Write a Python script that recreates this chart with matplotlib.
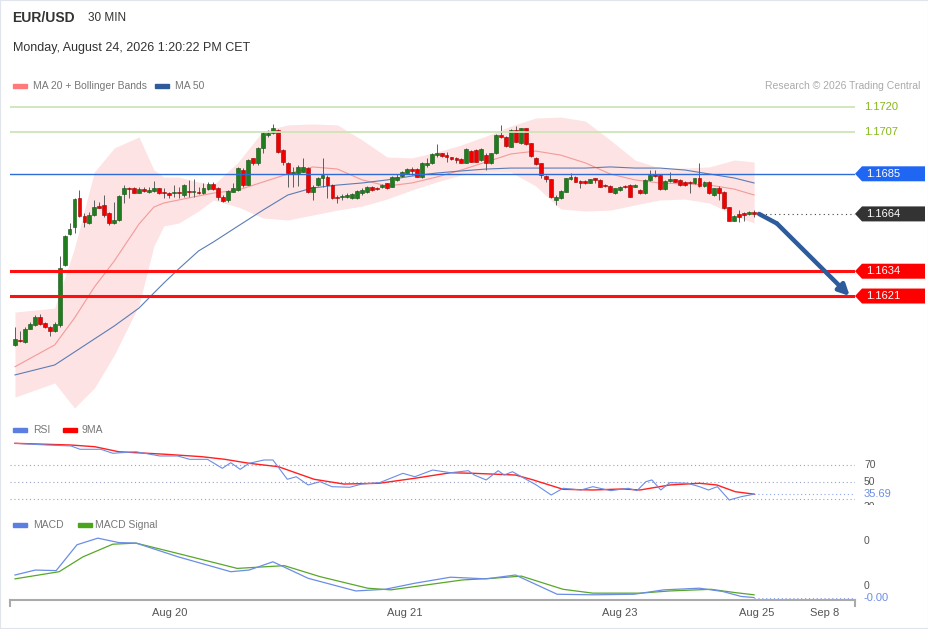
import matplotlib
matplotlib.use("Agg")
import matplotlib.pyplot as plt
import numpy as np
from matplotlib.patches import Rectangle, Polygon
from matplotlib.transforms import blended_transform_factory, IdentityTransform

plt.rcParams['font.family'] = ['Liberation Sans', 'DejaVu Sans']

# --- candles (30 min) ---
opens = [1.15952, 1.15980, 1.15971, 1.16037, 1.16058, 1.16102, 1.16067, 1.16049, 1.16027, 1.16058,
         1.16373, 1.16533, 1.16573, 1.16722, 1.16629, 1.16591, 1.16634, 1.16682, 1.16687, 1.16643,
         1.16591, 1.16608, 1.16744, 1.16776, 1.16774, 1.16751, 1.16769, 1.16756, 1.16761, 1.16774,
         1.16756, 1.16748, 1.16748, 1.16756, 1.16739, 1.16761, 1.16755, 1.16756, 1.16751, 1.16769,
         1.16795, 1.16774, 1.16730, 1.16713, 1.16756, 1.16765, 1.16870, 1.16791, 1.16931, 1.16905,
         1.16984, 1.17053, 1.17062, 1.17079, 1.16975, 1.16908, 1.16849, 1.16853, 1.16861, 1.16879,
         1.16756, 1.16791, 1.16827, 1.16835, 1.16791, 1.16730, 1.16727, 1.16727, 1.16722, 1.16722,
         1.16748, 1.16756, 1.16783, 1.16778, 1.16783, 1.16800, 1.16783, 1.16818, 1.16839, 1.16856,
         1.16873, 1.16873, 1.16832, 1.16896, 1.16905, 1.16949, 1.16958, 1.16949, 1.16937, 1.16931,
         1.16926, 1.16908, 1.16971, 1.16975, 1.16922, 1.16949, 1.16905, 1.16958, 1.17053, 1.17044,
         1.16992, 1.17079, 1.17010, 1.17089, 1.17010, 1.16935, 1.16905, 1.16839, 1.16822, 1.16713,
         1.16722, 1.16756, 1.16822, 1.16835, 1.16814, 1.16814, 1.16804, 1.16827, 1.16818, 1.16791,
         1.16787, 1.16748, 1.16765, 1.16787, 1.16791, 1.16783, 1.16765, 1.16748, 1.16818, 1.16849,
         1.16844, 1.16769, 1.16814, 1.16822, 1.16818, 1.16809, 1.16809, 1.16800, 1.16827, 1.16787,
         1.16807, 1.16739, 1.16776, 1.16756, 1.16675, 1.16604, 1.16638, 1.16646, 1.16639, 1.16651]
highs = [1.16049, 1.16027, 1.16049, 1.16075, 1.16111, 1.16116, 1.16075, 1.16053, 1.16075, 1.16420,
         1.16530, 1.16591, 1.16722, 1.16765, 1.16646, 1.16651, 1.16713, 1.16704, 1.16739, 1.16651,
         1.16704, 1.16739, 1.16791, 1.16783, 1.16783, 1.16781, 1.16783, 1.16783, 1.16813, 1.16778,
         1.16774, 1.16756, 1.16791, 1.16783, 1.16794, 1.16818, 1.16822, 1.16783, 1.16800, 1.16809,
         1.16809, 1.16783, 1.16739, 1.16765, 1.16800, 1.16886, 1.16879, 1.16927, 1.16935, 1.16992,
         1.17070, 1.17079, 1.17111, 1.17083, 1.16979, 1.16912, 1.16887, 1.16896, 1.16935, 1.16887,
         1.16791, 1.16835, 1.16931, 1.16844, 1.16794, 1.16739, 1.16744, 1.16748, 1.16748, 1.16765,
         1.16774, 1.16787, 1.16788, 1.16783, 1.16797, 1.16804, 1.16839, 1.16847, 1.16866, 1.16879,
         1.16887, 1.16879, 1.16912, 1.16931, 1.16958, 1.17005, 1.16961, 1.16966, 1.16940, 1.16940,
         1.16931, 1.16984, 1.16975, 1.16979, 1.16984, 1.16958, 1.16961, 1.17058, 1.17106, 1.17048,
         1.17083, 1.17100, 1.17092, 1.17092, 1.17011, 1.16938, 1.16906, 1.16842, 1.16825, 1.16739,
         1.16765, 1.16830, 1.16853, 1.16839, 1.16818, 1.16818, 1.16825, 1.16830, 1.16822, 1.16797,
         1.16790, 1.16778, 1.16787, 1.16790, 1.16795, 1.16795, 1.16769, 1.16822, 1.16870, 1.16870,
         1.16847, 1.16818, 1.16861, 1.16825, 1.16822, 1.16813, 1.16813, 1.16830, 1.16905, 1.16813,
         1.16810, 1.16778, 1.16787, 1.16760, 1.16678, 1.16632, 1.16660, 1.16650, 1.16655, 1.16660]
lows = [1.15949, 1.15970, 1.15963, 1.16035, 1.16054, 1.16058, 1.16041, 1.16001, 1.16023, 1.16049,
        1.16368, 1.16530, 1.16540, 1.16625, 1.16573, 1.16587, 1.16630, 1.16670, 1.16625, 1.16582,
        1.16587, 1.16604, 1.16697, 1.16723, 1.16748, 1.16749, 1.16756, 1.16751, 1.16756, 1.16744,
        1.16722, 1.16722, 1.16730, 1.16722, 1.16728, 1.16730, 1.16730, 1.16744, 1.16744, 1.16765,
        1.16765, 1.16713, 1.16704, 1.16704, 1.16755, 1.16761, 1.16783, 1.16789, 1.16896, 1.16896,
        1.16959, 1.17044, 1.17058, 1.16961, 1.16896, 1.16783, 1.16783, 1.16787, 1.16858, 1.16748,
        1.16713, 1.16787, 1.16783, 1.16722, 1.16717, 1.16696, 1.16713, 1.16722, 1.16718, 1.16718,
        1.16739, 1.16752, 1.16760, 1.16765, 1.16778, 1.16770, 1.16780, 1.16813, 1.16833, 1.16853,
        1.16844, 1.16832, 1.16828, 1.16887, 1.16901, 1.16940, 1.16940, 1.16913, 1.16922, 1.16905,
        1.16905, 1.16905, 1.16910, 1.16910, 1.16918, 1.16870, 1.16901, 1.16954, 1.17036, 1.16992,
        1.16989, 1.17015, 1.17006, 1.17002, 1.16940, 1.16896, 1.16827, 1.16809, 1.16723, 1.16687,
        1.16718, 1.16753, 1.16818, 1.16806, 1.16774, 1.16797, 1.16800, 1.16800, 1.16780, 1.16781,
        1.16753, 1.16744, 1.16761, 1.16776, 1.16727, 1.16780, 1.16744, 1.16744, 1.16814, 1.16835,
        1.16765, 1.16765, 1.16809, 1.16806, 1.16787, 1.16788, 1.16748, 1.16797, 1.16783, 1.16783,
        1.16745, 1.16735, 1.16713, 1.16666, 1.16603, 1.16603, 1.16599, 1.16603, 1.16635, 1.16625]
closes = [1.15983, 1.15975, 1.16038, 1.16063, 1.16102, 1.16063, 1.16046, 1.16027, 1.16063, 1.16359,
          1.16525, 1.16562, 1.16718, 1.16629, 1.16596, 1.16634, 1.16675, 1.16673, 1.16634, 1.16591,
          1.16608, 1.16734, 1.16774, 1.16770, 1.16751, 1.16769, 1.16760, 1.16765, 1.16778, 1.16748,
          1.16748, 1.16739, 1.16756, 1.16748, 1.16791, 1.16756, 1.16761, 1.16748, 1.16774, 1.16795,
          1.16769, 1.16727, 1.16709, 1.16761, 1.16774, 1.16879, 1.16791, 1.16922, 1.16905, 1.16984,
          1.17062, 1.17065, 1.17089, 1.16966, 1.16913, 1.16853, 1.16861, 1.16887, 1.16887, 1.16756,
          1.16783, 1.16827, 1.16844, 1.16791, 1.16722, 1.16722, 1.16734, 1.16739, 1.16744, 1.16761,
          1.16765, 1.16783, 1.16765, 1.16769, 1.16791, 1.16774, 1.16835, 1.16835, 1.16861, 1.16873,
          1.16866, 1.16835, 1.16908, 1.16908, 1.16952, 1.16958, 1.16945, 1.16940, 1.16926, 1.16922,
          1.16908, 1.16979, 1.16913, 1.16913, 1.16979, 1.16907, 1.16958, 1.17053, 1.17044, 1.16996,
          1.17079, 1.17018, 1.17089, 1.17006, 1.16943, 1.16900, 1.16844, 1.16822, 1.16727, 1.16730,
          1.16761, 1.16827, 1.16835, 1.16809, 1.16804, 1.16800, 1.16822, 1.16818, 1.16783, 1.16787,
          1.16756, 1.16774, 1.16783, 1.16780, 1.16730, 1.16791, 1.16748, 1.16818, 1.16844, 1.16839,
          1.16769, 1.16814, 1.16822, 1.16809, 1.16791, 1.16791, 1.16800, 1.16827, 1.16787, 1.16809,
          1.16749, 1.16774, 1.16749, 1.16670, 1.16605, 1.16629, 1.16625, 1.16634, 1.16651, 1.16639]

# --- moving averages / bollinger (read at these bar numbers) ---
band_idx = [0, 8, 12, 16, 20, 25, 28, 30, 33, 37, 40, 45, 50, 55, 60, 65, 70, 75, 80, 85,
            90, 95, 100, 105, 110, 115, 120, 125, 130, 135, 140, 145, 149]
ma20 = [1.15840, 1.15954, 1.16095, 1.16257, 1.16393, 1.16587, 1.16676, 1.16697, 1.16713, 1.16734,
        1.16749, 1.16765, 1.16807, 1.16849, 1.16886, 1.16875, 1.16818, 1.16786, 1.16802, 1.16833,
        1.16870, 1.16912, 1.16954, 1.16969, 1.16948, 1.16907, 1.16849, 1.16818, 1.16802, 1.16797,
        1.16791, 1.16770, 1.16739]
ma50 = [1.15797, 1.15849, 1.15917, 1.15985, 1.16053, 1.16147, 1.16226, 1.16278, 1.16352, 1.16446,
        1.16493, 1.16577, 1.16660, 1.16739, 1.16776, 1.16791, 1.16802, 1.16818, 1.16838, 1.16854,
        1.16865, 1.16875, 1.16880, 1.16880, 1.16880, 1.16880, 1.16886, 1.16880, 1.16880, 1.16870,
        1.16849, 1.16828, 1.16802]
bb_upper = [1.16126, 1.16147, 1.16461, 1.16859, 1.16985, 1.17043, 1.16870, 1.16833, 1.16833, 1.16807,
            1.16791, 1.16912, 1.17074, 1.17106, 1.17111, 1.17106, 1.17027, 1.16938, 1.16933, 1.16964,
            1.17001, 1.17048, 1.17100, 1.17142, 1.17147, 1.17126, 1.17027, 1.16922, 1.16880, 1.16880,
            1.16886, 1.16922, 1.16912]
bb_lower = [1.15681, 1.15755, 1.15624, 1.15728, 1.15901, 1.16163, 1.16472, 1.16577, 1.16592, 1.16655,
            1.16713, 1.16676, 1.16619, 1.16608, 1.16634, 1.16660, 1.16681, 1.16718, 1.16765, 1.16807,
            1.16844, 1.16859, 1.16859, 1.16786, 1.16666, 1.16655, 1.16660, 1.16687, 1.16713, 1.16718,
            1.16697, 1.16634, 1.16592]

# --- RSI ---
rsi_idx = [0, 6.5, 11.3, 13.1, 17.3, 19.7, 24.4, 29.2, 32.8, 35.2, 38.8, 41.8, 43.5, 45.4, 47.2,
           50.2, 52, 54.9, 56.7, 59.1, 61.5, 63.9, 67.5, 69.9, 73.5, 78.2, 80.6, 84.2, 87.8, 91.4,
           92.6, 95, 97.4, 98.6, 100.3, 102.1, 105.1, 108.1, 110.5, 114.1, 116.5, 120.1, 123.6,
           125.4, 127.2, 128.4, 130.2, 132, 135.6, 138, 139.8, 141.6, 144, 146.4, 149]
rsi_val = [95.5, 93.5, 92.4, 88.5, 88.5, 83.8, 85.6, 80.6, 80.6, 76.7, 76.7, 66.1, 72.7, 64.9, 72.0,
           75.9, 75.9, 53.2, 56.2, 46.5, 50.4, 44.5, 43.8, 47.6, 49.2, 60.2, 56.2, 64.1, 60.9, 63.3,
           58.2, 52.4, 63.3, 58.2, 62.1, 56.2, 46.5, 34.7, 42.6, 40.6, 44.5, 39.8, 42.6,
           39.8, 50.4, 52.4, 40.6, 49.2, 48.5, 44.5, 40.6, 44.5, 28.8, 32.7, 35.69]
rsi_ma_idx = [0, 11.3, 16.1, 20.9, 30.4, 37.6, 42.3, 47.2, 53.1, 60.3, 66.3, 73.4, 80.6, 87.8,
              92.5, 100.9, 104.5, 110.5, 116.5, 122.5, 126, 132, 138, 141.5, 145.2, 149]
rsi_ma_val = [95.5, 93.5, 91.5, 85.6, 82.6, 79.8, 76.7, 72.0, 68.0, 53.2, 47.6, 48.5, 54.4, 60.9,
              60.2, 58.2, 52.4, 41.4, 40.6, 41.8, 40.6, 46.5, 48.5, 46.5, 38.6, 35.69]
rsi_levels = [70, 50, 30]

# --- MACD ---
macd_idx = [0, 4.1, 8.3, 12.5, 16.7, 20.9, 24.4, 32.9, 43.5, 47.2, 52, 59.1, 68.7, 74.6, 80.6,
            87.8, 95, 100.9, 109.3, 116.5, 124.8, 130.8, 138, 142.7, 146.4, 149]
macd_val = [0.00040, 0.00049, 0.00048, 0.00095, 0.00107, 0.00099, 0.00098, 0.00073, 0.00046,
            0.00049, 0.00064, 0.00034, 0.00011, 0.00014, 0.00025, 0.00036, 0.00033, 0.00040,
            0.00005, 0.00004, 0.00005, 0.00013, 0.00016, 0.00010, 0.00001, -0.00001]
signal_idx = [0, 8.9, 13.7, 19.7, 24.4, 32.9, 44.8, 54.3, 61.5, 71.1, 75.8, 83, 90.2, 96.2,
              102.1, 110.5, 116.5, 126, 132, 140.3, 145.2, 149]
signal_val = [0.00033, 0.00046, 0.00073, 0.00096, 0.00098, 0.00079, 0.00052, 0.00057, 0.00037,
              0.00016, 0.00013, 0.00022, 0.00031, 0.00034, 0.00038, 0.00014, 0.00007, 0.00007,
              0.00011, 0.00014, 0.00008, 0.00004]
macd_ticks = [0.00102, 0.00020]

# --- levels & forecast ---
resist_levels = [1.1720, 1.1707]
pivot_level = 1.1685
support_levels = [1.1634, 1.1621]
last_price = 1.1664
forecast_idx = [150, 153.6, 168.3]
forecast_price = [1.1664, 1.1659, 1.1621]

date_pos = [31.25, 78.6, 122, 149.6, 163.3]
date_labels = ['Aug 20', 'Aug 21', 'Aug 23', 'Aug 25', 'Sep 8']

W, H = 929, 629
def fx(px):
    return px / W
def fy(py):
    return 1 - py / H

fig = plt.figure(figsize=(W / 100, H / 100), dpi=100)
fig.patch.set_facecolor('white')

xlim = (-1.008, 169.35)
ax = fig.add_axes([fx(10), fy(415), 845 / W, 320 / H])
ax_rsi = fig.add_axes([fx(10), fy(505), 845 / W, 65 / H])
ax_macd = fig.add_axes([fx(10), fy(600), 845 / W, 70 / H])
for a in (ax, ax_rsi, ax_macd):
    a.set_xlim(*xlim)
    for s in a.spines.values():
        s.set_visible(False)
    a.set_yticks([])
    a.set_xticks([])
    a.set_facecolor('none')

ax.set_ylim(1.155871, 1.172626)
ax_rsi.set_ylim(22.94, 99.41)
ax_macd.set_ylim(-0.0000545, 0.0012182)

# bollinger + MAs
ax.fill_between(band_idx, bb_lower, bb_upper, color='#fde3e3', lw=0, zorder=1)
ax.plot(band_idx, ma20, color='#f39a9a', lw=0.8, zorder=2)
ax.plot(band_idx, ma50, color='#5b7db5', lw=0.8, zorder=2)

# candles
o = np.array(opens); h = np.array(highs); l = np.array(lows); c = np.array(closes)
x = np.arange(len(c))
up = c > o
body = np.where(up, '#1f7d1f', '#f20000')
edge = np.where(up, '#125212', '#9a0000')
ax.vlines(x, l, h, color='#5e5e5e', lw=0.7, zorder=3)
ax.bar(x, np.maximum(np.abs(c - o), 0.00003), width=0.78, bottom=np.minimum(o, c),
       color=body, edgecolor=edge, linewidth=0.4, zorder=4)

# levels
for lv in resist_levels:
    ax.axhline(lv, color='#cde5b8', lw=1.3, zorder=5)
ax.axhline(pivot_level, color='#2f6bd6', lw=1.0, zorder=5)
for lv in support_levels:
    ax.axhline(lv, color='#ff1010', lw=2.2, zorder=5)
ax.plot([forecast_idx[0] + 0.4, xlim[1]], [last_price, last_price], color='#444444',
        lw=0.8, ls=(0, (1, 3)), zorder=5)

# forecast arrow
ax.plot(forecast_idx[:2], forecast_price[:2], color='#2d5b9b', lw=3.2,
        solid_capstyle='round', zorder=6)
ax.annotate('', xy=(forecast_idx[2], forecast_price[2]),
            xytext=(forecast_idx[1], forecast_price[1]),
            arrowprops=dict(arrowstyle='-|>', color='#2d5b9b', lw=3.2, mutation_scale=16,
                            shrinkA=0, shrinkB=0), zorder=6)

# right labels
btr = blended_transform_factory(fig.transFigure, ax.transData)
for lv in resist_levels:
    ax.text(fx(864), lv, f'{lv:.4f}', transform=btr, color='#86b817', fontsize=8,
            va='center', ha='left')

def tag(level, face):
    yd = ax.transData.transform((0, level))[1]
    poly = Polygon([(855, yd), (862, yd + 7.5), (925, yd + 7.5), (925, yd - 7.5), (862, yd - 7.5)],
                   closed=True, transform=IdentityTransform(), facecolor=face, edgecolor='none')
    fig.add_artist(poly)
    fig.text(866, yd, f'{level:.4f}', transform=IdentityTransform(), color='white',
             fontsize=8, va='center', ha='left')

tag(pivot_level, '#1f66f2')
tag(last_price, '#333333')
for lv in support_levels:
    tag(lv, '#ff0000')

# RSI panel
for lv in rsi_levels:
    ax_rsi.axhline(lv, color='#9aa3c4', lw=0.8, ls=(0, (1, 2.5)))
ax_rsi.plot(rsi_ma_idx, rsi_ma_val, color='#ff2020', lw=1.0, zorder=3)
ax_rsi.plot(rsi_idx, rsi_val, color='#6a8de6', lw=0.8, zorder=4)
ax_rsi.plot([rsi_idx[-1], xlim[1]], [rsi_val[-1]] * 2, color='#8fa6ea', lw=0.8, ls=(0, (1, 2.5)))
brsi = blended_transform_factory(fig.transFigure, ax_rsi.transData)
for lv in rsi_levels[:2]:
    ax_rsi.text(fx(864), lv, str(lv), transform=brsi, color='#555555', fontsize=7.5, va='center')
t30 = fig.text(864, H - 507, '30', transform=IdentityTransform(), color='#555555',
               fontsize=7.5, va='center')
t30.set_clip_path(Rectangle((855, H - 505), 60, 3, transform=IdentityTransform()))
ax_rsi.text(fx(864), rsi_val[-1], f'{rsi_val[-1]:.2f}', transform=brsi, color='#6a8de6',
            fontsize=8, va='center')

# MACD panel
ax_macd.plot(signal_idx, signal_val, color='#58a62a', lw=0.9, zorder=3)
ax_macd.plot(macd_idx, macd_val, color='#6a8de6', lw=0.9, zorder=4)
ax_macd.plot([macd_idx[-1], xlim[1]], [macd_val[-1]] * 2, color='#8fa6ea', lw=0.8,
             ls=(0, (1, 2.5)))
bmacd = blended_transform_factory(fig.transFigure, ax_macd.transData)
for tv in macd_ticks:
    ax_macd.text(fx(864), tv, '0', transform=bmacd, color='#555555', fontsize=7.5, va='center')
ax_macd.text(fx(864), macd_val[-1], '-0.00', transform=bmacd, color='#6a8de6', fontsize=8,
             va='center')

# x axis
ax_macd.spines['bottom'].set_visible(True)
ax_macd.spines['bottom'].set_color('#aaaaaa')
ax_macd.spines['bottom'].set_linewidth(1.5)
ax_macd.set_xticks(date_pos, date_labels)
ax_macd.tick_params(axis='x', length=0, pad=6, labelsize=8, labelcolor='#555555')
for xe in (0, 1):
    ax_macd.plot([xe, xe], [0, -6 / 70], transform=ax_macd.transAxes, clip_on=False,
                 color='#aaaaaa', lw=1.5)

# header & legends
fig.text(fx(12), fy(18), 'EUR/USD', fontsize=10, fontweight='bold', color='#333333', va='center')
fig.text(fx(88), fy(18), '30 MIN', fontsize=8.5, color='#333333', va='center')
fig.text(fx(13), fy(48), 'Monday, August 24, 2026 1:20:22 PM CET', fontsize=9,
         color='#333333', va='center')
fig.text(fx(920), fy(86), 'Research \u00a9 2026 Trading Central', fontsize=7.5,
         color='#aaaaaa', va='center', ha='right')

def swatch(px, py, col, label, tx):
    fig.patches.append(Rectangle((fx(px), fy(py + 2)), 14 / W, 4 / H,
                                 transform=fig.transFigure, color=col))
    fig.text(fx(tx), fy(py), label, fontsize=7.5, color='#777777', va='center')

swatch(13, 86, '#ff7b7b', 'MA 20 + Bollinger Bands', 33)
swatch(155, 86, '#2e5c9a', 'MA 50', 175)
swatch(13, 430, '#5b7fe0', 'RSI', 33)
swatch(63, 430, '#ff0000', '9MA', 82)
swatch(13, 525, '#5b7fe0', 'MACD', 33)
swatch(78, 525, '#4aa51c', 'MACD Signal', 95)

fig.patches.append(Rectangle((0, 0), 1, 1, transform=fig.transFigure, fill=False,
                             edgecolor='#dfe5ea', lw=1.5))

fig.savefig('out.png', dpi=100)
